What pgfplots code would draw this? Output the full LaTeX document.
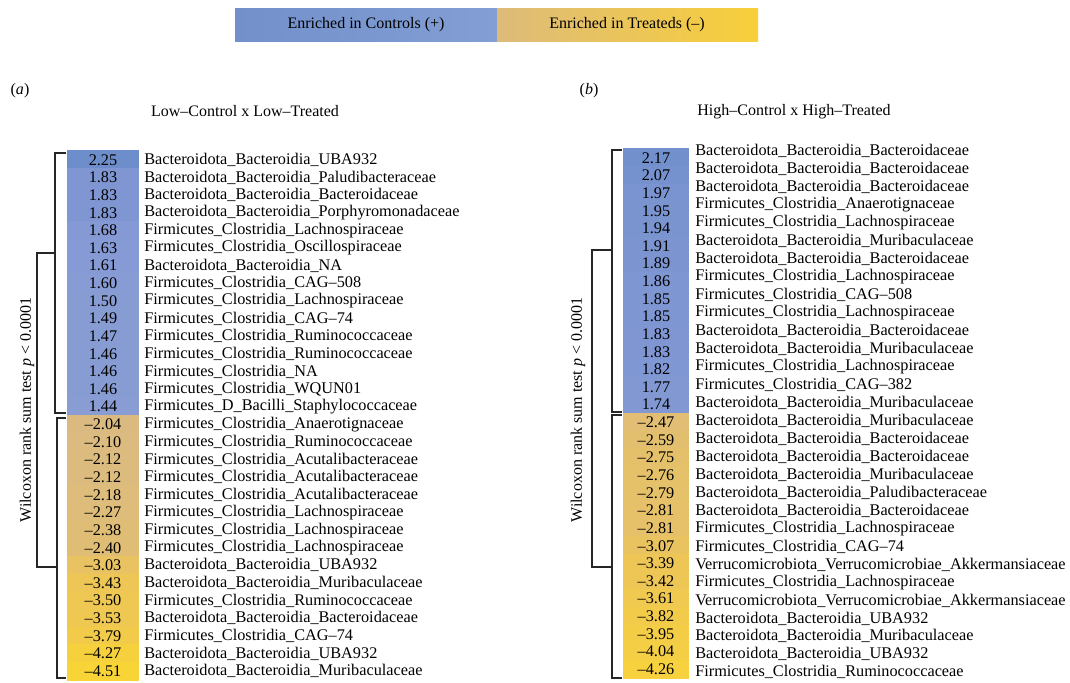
\documentclass[border=0pt]{standalone}
\usepackage{fontspec}
\setmainfont{Liberation Serif}
\usepackage{pgfplots}
\pgfplotsset{compat=1.18}
\usepackage{pgfplotstable}

\pgfplotstableread{
row v lab
1 2.25 2.25
2 1.83 1.83
3 1.83 1.83
4 1.83 1.83
5 1.68 1.68
6 1.63 1.63
7 1.61 1.61
8 1.60 1.60
9 1.50 1.50
10 1.49 1.49
11 1.47 1.47
12 1.46 1.46
13 1.46 1.46
14 1.46 1.46
15 1.44 1.44
16 -2.04 –2.04
17 -2.10 –2.10
18 -2.12 –2.12
19 -2.12 –2.12
20 -2.18 –2.18
21 -2.27 –2.27
22 -2.38 –2.38
23 -2.40 –2.40
24 -3.03 –3.03
25 -3.43 –3.43
26 -3.50 –3.50
27 -3.53 –3.53
28 -3.79 –3.79
29 -4.27 –4.27
30 -4.51 –4.51
}\tableA

\pgfplotstableread{
row v lab
1 2.17 2.17
2 2.07 2.07
3 1.97 1.97
4 1.95 1.95
5 1.94 1.94
6 1.91 1.91
7 1.89 1.89
8 1.86 1.86
9 1.85 1.85
10 1.85 1.85
11 1.83 1.83
12 1.83 1.83
13 1.82 1.82
14 1.77 1.77
15 1.74 1.74
16 -2.47 –2.47
17 -2.59 –2.59
18 -2.75 –2.75
19 -2.76 –2.76
20 -2.79 –2.79
21 -2.81 –2.81
22 -2.81 –2.81
23 -3.07 –3.07
24 -3.39 –3.39
25 -3.42 –3.42
26 -3.61 –3.61
27 -3.82 –3.82
28 -3.95 –3.95
29 -4.04 –4.04
30 -4.26 –4.26
}\tableB

\pgfplotsset{
  heatcol/.style={
    scale only axis,
    xmin=0, xmax=1, ymin=0.5, ymax=30.5,
    y dir=reverse,
    clip=false,
    axis line style={draw=none},
    tick style={draw=none},
    major tick length=0pt,
    xtick=\empty,
    yticklabel pos=right,
    yticklabel style={font=\fontsize{12.2}{14}\selectfont, anchor=west, inner sep=0pt, xshift=4.5pt},
    colormap={enrich}{rgb255(-4.6)=(250,213,52) rgb255(-3.4)=(238,198,86) rgb255(-2.0)=(218,186,130) rgb255(1.4)=(137,157,212) rgb255(1.65)=(134,154,213) rgb255(2.3)=(108,141,202)},
    point meta min=-4.6, point meta max=2.3,
  },
}

\begin{document}
\begin{tikzpicture}
\path[use as bounding box] (0pt,0pt) rectangle (802.5pt,-511.5pt);

% panel (a)
\begin{axis}[heatcol,
  at={(51pt,-510pt)}, anchor=south west,
  width=52.5pt, height=396.75pt,
  ytick={1,...,30},
  yticklabels={
    Bacteroidota\_Bacteroidia\_UBA932,
    Bacteroidota\_Bacteroidia\_Paludibacteraceae,
    Bacteroidota\_Bacteroidia\_Bacteroidaceae,
    Bacteroidota\_Bacteroidia\_Porphyromonadaceae,
    Firmicutes\_Clostridia\_Lachnospiraceae,
    Firmicutes\_Clostridia\_Oscillospiraceae,
    Bacteroidota\_Bacteroidia\_NA,
    Firmicutes\_Clostridia\_CAG–508,
    Firmicutes\_Clostridia\_Lachnospiraceae,
    Firmicutes\_Clostridia\_CAG–74,
    Firmicutes\_Clostridia\_Ruminococcaceae,
    Firmicutes\_Clostridia\_Ruminococcaceae,
    Firmicutes\_Clostridia\_NA,
    Firmicutes\_Clostridia\_WQUN01,
    Firmicutes\_D\_Bacilli\_Staphylococcaceae,
    Firmicutes\_Clostridia\_Anaerotignaceae,
    Firmicutes\_Clostridia\_Ruminococcaceae,
    Firmicutes\_Clostridia\_Acutalibacteraceae,
    Firmicutes\_Clostridia\_Acutalibacteraceae,
    Firmicutes\_Clostridia\_Acutalibacteraceae,
    Firmicutes\_Clostridia\_Lachnospiraceae,
    Firmicutes\_Clostridia\_Lachnospiraceae,
    Firmicutes\_Clostridia\_Lachnospiraceae,
    Bacteroidota\_Bacteroidia\_UBA932,
    Bacteroidota\_Bacteroidia\_Muribaculaceae,
    Firmicutes\_Clostridia\_Ruminococcaceae,
    Bacteroidota\_Bacteroidia\_Bacteroidaceae,
    Firmicutes\_Clostridia\_CAG–74,
    Bacteroidota\_Bacteroidia\_UBA932,
    Bacteroidota\_Bacteroidia\_Muribaculaceae},
]
\addplot[scatter, only marks, mark=square*, mark size=6.7pt,
  mark options={xscale=3.92, line width=0pt},
  scatter/use mapped color={draw=mapped color, fill=mapped color},
  point meta=explicit]
  table[x expr=0.5, y=row, meta=v] {\tableA};
\addplot[only marks, mark=none, point meta=explicit symbolic,
  nodes near coords, nodes near coords align=center,
  every node near coord/.append style={anchor=center, text=black, inner sep=0pt, font=\fontsize{12.2}{14}\selectfont}]
  table[x expr=0.5, y=row, meta=lab] {\tableA};
\end{axis}

% panel (b)
\begin{axis}[heatcol,
  at={(467.25pt,-508.5pt)}, anchor=south west,
  width=49.5pt, height=396.75pt,
  ytick={0.62,1.64,2.66,3.68,4.70,5.72,6.74,7.76,8.77,9.79,10.81,11.83,12.85,13.87,14.89,15.91,16.93,17.95,18.97,19.99,21.01,22.03,23.04,24.06,25.08,26.10,27.12,28.14,29.16,30.18},
  yticklabels={
    Bacteroidota\_Bacteroidia\_Bacteroidaceae,
    Bacteroidota\_Bacteroidia\_Bacteroidaceae,
    Bacteroidota\_Bacteroidia\_Bacteroidaceae,
    Firmicutes\_Clostridia\_Anaerotignaceae,
    Firmicutes\_Clostridia\_Lachnospiraceae,
    Bacteroidota\_Bacteroidia\_Muribaculaceae,
    Bacteroidota\_Bacteroidia\_Bacteroidaceae,
    Firmicutes\_Clostridia\_Lachnospiraceae,
    Firmicutes\_Clostridia\_CAG–508,
    Firmicutes\_Clostridia\_Lachnospiraceae,
    Bacteroidota\_Bacteroidia\_Bacteroidaceae,
    Bacteroidota\_Bacteroidia\_Muribaculaceae,
    Firmicutes\_Clostridia\_Lachnospiraceae,
    Firmicutes\_Clostridia\_CAG–382,
    Bacteroidota\_Bacteroidia\_Muribaculaceae,
    Bacteroidota\_Bacteroidia\_Muribaculaceae,
    Bacteroidota\_Bacteroidia\_Bacteroidaceae,
    Bacteroidota\_Bacteroidia\_Bacteroidaceae,
    Bacteroidota\_Bacteroidia\_Muribaculaceae,
    Bacteroidota\_Bacteroidia\_Paludibacteraceae,
    Bacteroidota\_Bacteroidia\_Bacteroidaceae,
    Firmicutes\_Clostridia\_Lachnospiraceae,
    Firmicutes\_Clostridia\_CAG–74,
    Verrucomicrobiota\_Verrucomicrobiae\_Akkermansiaceae,
    Firmicutes\_Clostridia\_Lachnospiraceae,
    Verrucomicrobiota\_Verrucomicrobiae\_Akkermansiaceae,
    Bacteroidota\_Bacteroidia\_UBA932,
    Bacteroidota\_Bacteroidia\_Muribaculaceae,
    Bacteroidota\_Bacteroidia\_UBA932,
    Firmicutes\_Clostridia\_Ruminococcaceae},
]
\addplot[scatter, only marks, mark=square*, mark size=6.7pt,
  mark options={xscale=3.69, line width=0pt},
  scatter/use mapped color={draw=mapped color, fill=mapped color},
  point meta=explicit]
  table[x expr=0.5, y=row, meta=v] {\tableB};
\addplot[only marks, mark=none, point meta=explicit symbolic,
  nodes near coords, nodes near coords align=center,
  every node near coord/.append style={anchor=center, text=black, inner sep=0pt, font=\fontsize{12.2}{14}\selectfont}]
  table[x expr=0.5, y=row, meta=lab] {\tableB};
\end{axis}

\begin{scope}[x=0.75pt, y=-0.75pt, font=\fontsize{12}{14}\selectfont]
  % legend bar
  \shade[left color={rgb,255:red,116;green,144;blue,203}, right color={rgb,255:red,130;green,158;blue,212}] (235,8) rectangle (497,41);
  \shade[left color={rgb,255:red,221;green,187;blue,122}, right color={rgb,255:red,248;green,207;blue,58}] (497,8) rectangle (758,41);
  \node at (366,25) {Enriched in Controls (+)};
  \node at (627,25) {Enriched in Treateds (–)};

  % panel labels and titles
  \node at (20,91) {(\textit{a})};
  \node at (245,111) {Low–Control x Low–Treated};
  \node at (589,91) {(\textit{b})};
  \node at (794,112) {High–Control x High–Treated};

  % brackets (a)
  \draw[line width=1pt, black!85] (66,153) -- (55,153) -- (55,413) -- (66,413);
  \draw[line width=1pt, black!85] (66,418) -- (57,418) -- (57,678) -- (66,678);
  \draw[line width=1pt, black!85] (55,253) -- (37,253) -- (37,567) -- (57,567);
  \node[rotate=90] at (27,410) {Wilcoxon rank sum test \textit{p} < 0.0001};

  % brackets (b)
  \draw[line width=1pt, black!85] (622,150) -- (612,150) -- (612,412) -- (622,412);
  \draw[line width=1pt, black!85] (622,415) -- (612,415) -- (612,678) -- (622,678);
  \draw[line width=1pt, black!85] (612,250) -- (592,250) -- (592,567) -- (612,567);
  \node[rotate=90] at (578,410) {Wilcoxon rank sum test \textit{p} < 0.0001};
\end{scope}
\end{tikzpicture}
\end{document}
